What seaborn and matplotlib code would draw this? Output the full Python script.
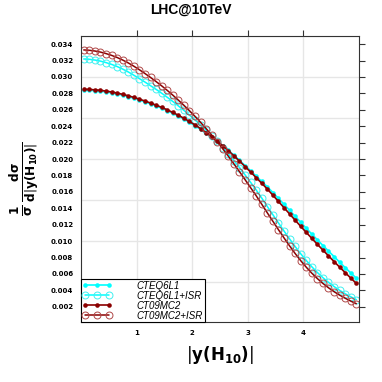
import matplotlib
matplotlib.use("Agg")
import matplotlib.pyplot as plt
import matplotlib.ticker as mticker
import numpy as np
import seaborn as sns

# |y(H10)| bin centres
x = [0.05, 0.15, 0.25, 0.35, 0.45, 0.55, 0.65, 0.75, 0.85, 0.95,
     1.05, 1.15, 1.25, 1.35, 1.45, 1.55, 1.65, 1.75, 1.85, 1.95,
     2.05, 2.15, 2.25, 2.35, 2.45, 2.55, 2.65, 2.75, 2.85, 2.95,
     3.05, 3.15, 3.25, 3.35, 3.45, 3.55, 3.65, 3.75, 3.85, 3.95,
     4.05, 4.15, 4.25, 4.35, 4.45, 4.55, 4.65, 4.75, 4.85, 4.95]

cteq6l1 = [0.02840, 0.02838, 0.02833, 0.02827, 0.02818, 0.02807, 0.02794, 0.02778, 0.02761, 0.02741,
           0.02720, 0.02697, 0.02673, 0.02647, 0.02620, 0.02590, 0.02558, 0.02524, 0.02487, 0.02448,
           0.02406, 0.02361, 0.02316, 0.02268, 0.02218, 0.02163, 0.02105, 0.02046, 0.01984, 0.01921,
           0.01856, 0.01792, 0.01727, 0.01662, 0.01592, 0.01521, 0.01449, 0.01376, 0.01302, 0.01229,
           0.01157, 0.01086, 0.01016, 0.00947, 0.00879, 0.00812, 0.00744, 0.00678, 0.00613, 0.00549]

cteq6l1_isr = [0.03219, 0.03215, 0.03206, 0.03193, 0.03175, 0.03153, 0.03127, 0.03096, 0.03061, 0.03021,
               0.02980, 0.02938, 0.02894, 0.02849, 0.02802, 0.02753, 0.02702, 0.02648, 0.02593, 0.02536,
               0.02477, 0.02415, 0.02351, 0.02284, 0.02214, 0.02140, 0.02062, 0.01981, 0.01896, 0.01807,
               0.01716, 0.01623, 0.01525, 0.01422, 0.01322, 0.01222, 0.01124, 0.01028, 0.00935, 0.00847,
               0.00765, 0.00688, 0.00618, 0.00555, 0.00498, 0.00447, 0.00401, 0.00360, 0.00323, 0.00288]

ct09mc2 = [0.02850, 0.02848, 0.02843, 0.02837, 0.02828, 0.02817, 0.02804, 0.02788, 0.02771, 0.02751,
           0.02730, 0.02707, 0.02683, 0.02657, 0.02630, 0.02600, 0.02568, 0.02534, 0.02497, 0.02458,
           0.02416, 0.02371, 0.02323, 0.02272, 0.02218, 0.02161, 0.02101, 0.02039, 0.01975, 0.01909,
           0.01842, 0.01774, 0.01705, 0.01635, 0.01560, 0.01484, 0.01408, 0.01332, 0.01256, 0.01181,
           0.01107, 0.01034, 0.00962, 0.00891, 0.00821, 0.00752, 0.00684, 0.00617, 0.00551, 0.00486]

ct09mc2_isr = [0.03329, 0.03325, 0.03316, 0.03303, 0.03285, 0.03263, 0.03237, 0.03206, 0.03171, 0.03131,
               0.03088, 0.03042, 0.02994, 0.02944, 0.02892, 0.02837, 0.02779, 0.02718, 0.02655, 0.02589,
               0.02520, 0.02447, 0.02371, 0.02292, 0.02210, 0.02124, 0.02034, 0.01941, 0.01846, 0.01749,
               0.01651, 0.01553, 0.01450, 0.01345, 0.01242, 0.01140, 0.01040, 0.00943, 0.00850, 0.00763,
               0.00683, 0.00610, 0.00544, 0.00485, 0.00432, 0.00385, 0.00343, 0.00305, 0.00270, 0.00238]

labels = ["CTEQ6L1", "CTEQ6L1+ISR", "CT09MC2", "CT09MC2+ISR"]

sns.set_style("white")
plt.rcParams['font.family'] = ['Liberation Sans', 'DejaVu Sans']
plt.rcParams['text.color'] = 'black'
plt.rcParams['axes.labelcolor'] = 'black'
plt.rcParams['xtick.color'] = 'black'
plt.rcParams['ytick.color'] = 'black'

fig = plt.figure(figsize=(3.82, 3.82), dpi=100)
fig.patch.set_facecolor('white')
ax = fig.add_axes([0.212, 0.157, 0.728, 0.749])

series = [
    (cteq6l1, '#00FFFF', '#00FFFF', True),
    (cteq6l1_isr, '#00FFFF', '#40F0F0', False),
    (ct09mc2, '#8B0000', '#8B0000', True),
    (ct09mc2_isr, '#8B0000', '#B04848', False),
]

for (vals, c, mc, filled), lab in zip(series, labels):
    if filled:
        sns.lineplot(x=x, y=vals, ax=ax, color=c, lw=1.2, marker='o',
                     markersize=3.3, mfc=mc, mec=mc, mew=0, label=lab)
    else:
        sns.lineplot(x=x, y=vals, ax=ax, color=c, lw=1.1, marker='o',
                     markersize=5.0, mfc='none', mec=mc, mew=0.7, label=lab)

ax.set_xlim(0, 5)
ax.set_ylim(0.00015, 0.035)
ax.xaxis.set_major_locator(mticker.FixedLocator([1, 2, 3, 4]))
ax.yaxis.set_major_locator(mticker.MultipleLocator(0.002))
ax.yaxis.set_major_formatter(mticker.FormatStrFormatter('%.3f'))
ax.yaxis.set_minor_locator(mticker.MultipleLocator(0.005))
ax.yaxis.remove_overlapping_locs = False

ax.grid(False)
ax.grid(True, axis='x', which='major', color='#E6E6E6', lw=1.0)
ax.grid(True, axis='y', which='minor', color='#E6E6E6', lw=1.0)
ax.set_axisbelow(True)

ax.tick_params(which='major', direction='out', length=4, width=0.8, color='#333333',
               top=True, right=True, labeltop=False, labelright=False,
               labelsize=5, pad=1.5, labelcolor='black')
ax.tick_params(which='minor', length=0)
for t in ax.get_xticklabels() + ax.get_yticklabels():
    t.set_fontfamily('DejaVu Sans')
    t.set_fontweight('bold')

for s in ax.spines.values():
    s.set_color('#333333')
    s.set_linewidth(0.8)

ax.set_xlabel(r'$\left|\mathbf{y(H_{10})}\right|$', fontsize=12, labelpad=6)
ax.set_ylabel(r'$\mathbf{\frac{1}{\sigma}\,\frac{d\sigma}{d\left|y(H_{10})\right|}}$',
              fontsize=12.5, labelpad=7)

fig.text(0.5, 0.974, 'LHC@10TeV', ha='center', va='center',
         fontsize=10, fontweight='bold', color='black')

leg = ax.legend(loc='lower left', bbox_to_anchor=(0, 0), borderaxespad=0,
                frameon=True, fancybox=False, edgecolor='black', framealpha=1,
                prop={'family': 'Liberation Sans', 'style': 'italic', 'size': 7},
                handlelength=3.0, handletextpad=2.6, labelspacing=0.0,
                borderpad=0.15, numpoints=3)
leg.get_frame().set_linewidth(0.8)
for t in leg.get_texts():
    t.set_color('black')

fig.savefig('out.png', dpi=100)
